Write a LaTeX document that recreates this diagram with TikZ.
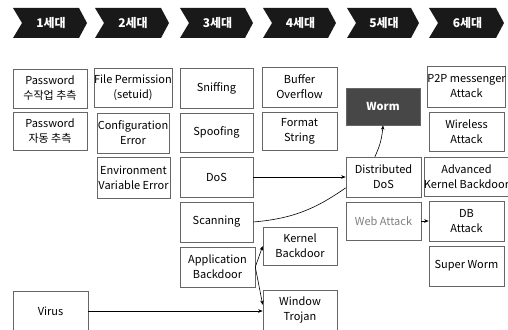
\documentclass[tikz,border=0pt]{standalone}
\usepackage{fontspec}
\setmainfont{Noto Sans CJK KR}
\newfontfamily\kr{Noto Sans CJK KR}
\usetikzlibrary{arrows.meta}
\begin{document}
\begin{tikzpicture}[x=1pt,y=1pt,
  box/.style={draw=black!60, line width=0.6pt, fill=white, align=center, inner sep=0pt,
    font=\fontsize{11}{15}\selectfont},
  arr/.style={-{Stealth[length=4.5pt,width=3.5pt]}, line width=0.6pt},
  gen/.style={font=\kr\bfseries\fontsize{12}{14}\selectfont, text=white},
  chev/.style={fill=black!90}]
\path[use as bounding box, fill=white] (0,0) rectangle (508,-329);
\foreach \L/\R/\k in {13/87/1, 95/169/2, 180/253/3, 263/336/4, 347/419/5, 429/504/6} {
  \fill[chev] (\L,-8) -- (\R-8,-8) -- (\R,-23) -- (\R-8,-38) -- (\L,-38) -- (\L+9,-23) -- cycle;
  \node[gen] (g\k) at ({(\L+\R)/2+1},-23) {{\k}세대};
}
% column 1
\node[box,minimum width=74pt,minimum height=39pt] (pw1) at (50,-88.5) {Password\\수작업 추측};
\node[box,minimum width=74pt,minimum height=38pt] (pw2) at (50,-131.5) {Password\\자동 추측};
\node[box,minimum width=75pt,minimum height=40pt] (virus) at (50.5,-311) {Virus};
% column 2
\node[box,minimum width=72pt,minimum height=39pt] (fp) at (133,-88) {File Permission\\(setuid)};
\node[box,minimum width=72pt,minimum height=40pt] (ce) at (133,-133) {Configuration\\Error};
\node[box,minimum width=73pt,minimum height=41pt] (ev) at (133.5,-177.5) {Environment\\Variable Error};
% column 3
\node[box,minimum width=73pt,minimum height=40pt] (sn) at (216.5,-88) {Sniffing};
\node[box,minimum width=73pt,minimum height=39pt] (sp) at (216.5,-132.5) {Spoofing};
\node[box,minimum width=73pt,minimum height=40pt] (dos) at (216.5,-177) {DoS};
\node[box,minimum width=73pt,minimum height=40pt] (sc) at (216.5,-222) {Scanning};
\node[box,minimum width=75pt,minimum height=40pt] (ab) at (217.5,-267) {Application\\Backdoor};
% column 4
\node[box,minimum width=75pt,minimum height=40pt] (bo) at (299.5,-87) {Buffer\\Overflow};
\node[box,minimum width=75pt,minimum height=38pt] (fs) at (299.5,-131) {Format\\String};
\node[box,minimum width=74pt,minimum height=38pt] (kb) at (300,-246) {Kernel\\Backdoor};
\node[box,minimum width=74pt,minimum height=40pt] (wt) at (300,-310) {Window\\Trojan};
% column 5
\node[box,fill=black!72,minimum width=74pt,minimum height=37pt,text=white,font=\bfseries\fontsize{11}{15}\selectfont] (worm) at (383,-106.5) {Worm};
\node[box,minimum width=75pt,minimum height=40pt] (ddos) at (383.5,-177) {Distributed\\DoS};
\node[box,minimum width=75pt,minimum height=38pt,text=black!50] (wa) at (383.5,-221) {Web Attack};
% column 6
\node[box,minimum width=77pt,minimum height=41pt] (p2p) at (466.5,-86.5) {P2P messenger\\Attack};
\node[box,minimum width=75pt,minimum height=39pt] (wl) at (466.5,-131.5) {Wireless\\Attack};
\node[box,minimum width=75pt,minimum height=39pt] (akb) at (466.5,-176.5) {Advanced\\Kernel Backdoor};
\node[box,minimum width=75pt,minimum height=40pt] (db) at (466.5,-221) {DB\\Attack};
\node[box,minimum width=75pt,minimum height=40pt] (swm) at (466.5,-266) {Super Worm};
% connectors
\draw[arr] (dos.east) -- (ddos.west);
\draw[line width=0.6pt] (sc.east) to[out=5,in=-145] (ddos.196);
\draw[arr] (ddos.113) to[out=65,in=-95] (worm.south);
\draw[arr] (ab.east) -- (kb.west);
\draw[arr] (ab.east) -- (wt.172);
\draw[arr] (virus.east) -- (virus.east -| wt.west);
\draw[arr] (wa.east) -- (wa.east -| db.west);
\end{tikzpicture}
\end{document}
